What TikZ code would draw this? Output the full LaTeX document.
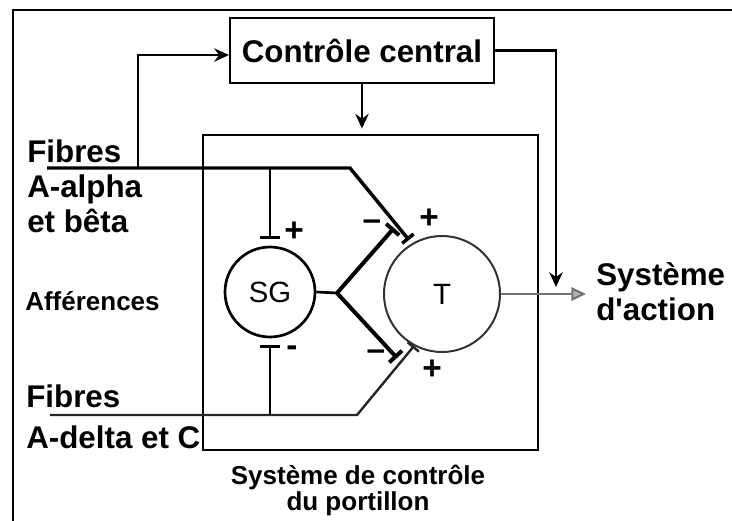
\documentclass[tikz,border=0pt]{standalone}
\usepackage{fontspec}
\setmainfont{Liberation Sans}[Ligatures=TeXOff]
\usetikzlibrary{arrows.meta}
\begin{document}
\begin{tikzpicture}[x=0.75pt,y=-0.75pt,
  lbl/.style={font=\bfseries\fontsize{23.5}{26.25}\selectfont, inner sep=0pt},
  lblc/.style={font=\bfseries\fontsize{23.5}{30.75}\selectfont, inner sep=0pt},
  smalllbl/.style={font=\bfseries\fontsize{19.5}{17.5}\selectfont, inner sep=0pt},
  signst/.style={font=\bfseries\fontsize{25}{25}\selectfont, inner sep=0pt},
  boxst/.style={draw, line width=1.6pt},
  circst/.style={draw, circle, line width=2pt, inner sep=0pt, font=\fontsize{22}{22}\selectfont},
  fiber/.style={line width=2.6pt},
  fiberlow/.style={line width=1.8pt, draw=black!85},
  conn/.style={line width=2pt},
  branch/.style={line width=3pt},
  arr/.style={-{Stealth[length=11pt,width=10pt]}},
  frame/.style={line width=1.5pt}
]
\useasboundingbox (0,0) rectangle (732,521);
\draw[frame] (13,521) -- (13,10) -- (732,10);

% boxes and circles
\node[boxst, lbl, minimum width=198pt, minimum height=48.75pt] (ctrl) at (362,50.5) {Contrôle central};
\node[boxst, minimum width=251.25pt, minimum height=236.25pt] (gate) at (370.5,292.5) {};
\node[circst, minimum size=67.5pt] (sg) at (270,292) {SG};
\node[circst, minimum size=87pt, draw=black!80, line width=1.5pt] (t) at (442,294) {T};

% coordinates
\coordinate (fa) at (47,168);
\coordinate (fa1) at (138,168);
\coordinate (fa2) at (270,168);
\coordinate (fa3) at (350,168);
\coordinate (ta) at (409,240);
\coordinate (fc) at (50,415);
\coordinate (fc2) at (270,415);
\coordinate (fc3) at (357,415);
\coordinate (tc) at (414,346);
\coordinate (sgj) at (337,293);
\coordinate (su) at (394,228);
\coordinate (sl) at (397,358);
\coordinate (act) at (556,287);
\coordinate (tout) at (586,294);

% fibres
\draw[fiber, -{Bar[width=11pt]}] (fa) -- (fa3) -- (ta);
\draw[fiberlow, -{Bar[width=11pt]}] (fc) -- (fc3) -- (tc);
\draw[conn, arr] (fa1) |- ([yshift=-3.4pt]ctrl.west);
\draw[conn, -{Bar[width=15pt]}, shorten >=5pt] (fa2) -- (sg.north);
\draw[conn, -{Bar[width=15pt]}, shorten >=5pt] (fc2) -- (sg.south);

% SG output
\draw[conn] (sg.east) -- (sgj);
\draw[branch, -{Bar[width=13pt]}] (sgj) -- (su);
\draw[branch, -{Bar[width=13pt]}] (sgj) -- (sl);

% central control
\draw[conn, arr] (ctrl.east) -| (act);
\draw[conn, arr, shorten >=4pt] (ctrl.south) -- (ctrl.south |- gate.north);

% T output
\draw[line width=1.6pt, draw=black!55, -{Triangle[length=11pt,width=10pt,fill=black!30]}] (t.east) -- (tout);

% signs
\node[signst] (s1) at (294,232) {+};
\node[signst] (s2) at (292,351) {-};
\node[signst] (s3) at (372,225) {–};
\node[signst] (s4) at (429,219) {+};
\node[signst] (s5) at (376,355) {–};
\node[signst] (s6) at (432,370) {+};

% labels
\node[lbl, anchor=base west, align=left] (fibA) at (27,232) {Fibres\\A-alpha\\et bêta};
\node[smalllbl, anchor=base west] (aff) at (25,310) {Afférences};
\node[lblc, anchor=base west, align=left] (fibC) at (26,448) {Fibres\\A-delta et C};
\node[lbl, anchor=base west, align=left] (action) at (596,320) {Système\\d'action};
\node[smalllbl, align=center, anchor=base] (gatelbl) at (358,510) {Système de contrôle\\du portillon};
\end{tikzpicture}
\end{document}
